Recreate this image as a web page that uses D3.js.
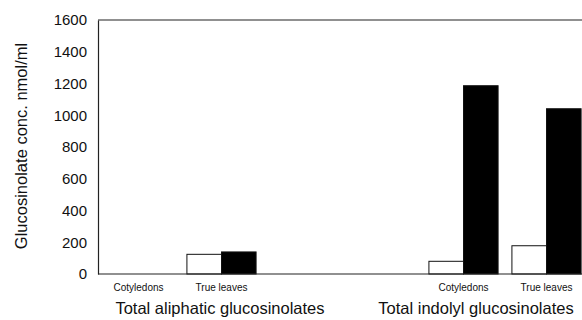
<!DOCTYPE html>
<html>
<head>
<meta charset="utf-8">
<script src="https://cdn.jsdelivr.net/npm/d3@7"></script>
<style>
  body { margin: 0; background: #fff; }
  text { font-family: "Liberation Sans", Arial, sans-serif; fill: #111; }
</style>
</head>
<body>
<div id="container"></div>
<script>
let w = 582;
let h = 320;

// DATA
let groups = ["Total aliphatic glucosinolates", "Total indolyl glucosinolates"];
let stages = ["Cotyledons", "True leaves"];
let series = ["white", "black"];
// values by group -> stage -> [white, black]
let aliphaticValues = [[0, 0], [124, 139]];
let indolylValues = [[80, 1186], [178, 1041]];
let yTicks = [0, 200, 400, 600, 800, 1000, 1200, 1400, 1600];

let allValues = [aliphaticValues, indolylValues];

let rows = [];
groups.forEach(function(g, gi){
  stages.forEach(function(s, si){
    series.forEach(function(k, ki){
      rows.push({group: g, stage: s, series: k, value: allValues[gi][si][ki]});
    });
  });
});

let padLeft = 98, padRight = 582, padTop = 20, padBottom = 274;
// group title shift relative to group centre
let titleShift = [40, -29];

let viz = d3.select("#container").append("svg")
    .attr("width", w)
    .attr("height", h)
    .style("display", "block");

// SCALES
let yScale = d3.scaleLinear().domain([0, 1600]).range([padBottom, padTop]);
let groupScale = d3.scalePoint().domain(groups).range([180, 505]);
let stageScale = d3.scaleBand().domain(stages).range([-83, 83]);
let seriesScale = d3.scaleBand().domain(series).range([0, stageScale.bandwidth()])
    .paddingInner(0).paddingOuter(0.2);

// frame lines
viz.append("line")
  .attr("x1", padLeft).attr("x2", padRight)
  .attr("y1", padTop).attr("y2", padTop)
  .attr("stroke", "#222").attr("stroke-width", 1.2);

// bars
viz.selectAll(".bar").data(rows.filter(function(d){ return d.value > 0; })).enter()
  .append("rect")
    .attr("class", "bar")
    .attr("x", function(d){ return groupScale(d.group) + stageScale(d.stage) + seriesScale(d.series); })
    .attr("width", seriesScale.bandwidth())
    .attr("y", function(d){ return yScale(d.value); })
    .attr("height", function(d){ return yScale(0) - yScale(d.value); })
    .attr("fill", function(d){ return d.series == "black" ? "#000" : "#fff"; })
    .attr("stroke", "#111")
    .attr("stroke-width", 1);

// y axis
let yAxis = d3.axisLeft(yScale).tickValues(yTicks).tickFormat(d3.format("d"))
    .tickSize(0).tickPadding(11);
let yg = viz.append("g").attr("transform", "translate(" + padLeft + ",0)").call(yAxis);
yg.select(".domain").attr("stroke", "#222").attr("stroke-width", 1.2);
yg.selectAll("text").style("font-size", "15px").attr("font-family", null).attr("fill", "#111");

// x axis line
viz.append("line")
  .attr("x1", padLeft).attr("x2", padRight)
  .attr("y1", padBottom).attr("y2", padBottom)
  .attr("stroke", "#222").attr("stroke-width", 1.2);

// stage labels
groups.forEach(function(g){
  viz.selectAll(null).data(stages).enter()
    .append("text")
      .attr("x", function(s){ return groupScale(g) + stageScale(s) + stageScale.bandwidth() / 2; })
      .attr("y", 291)
      .attr("text-anchor", "middle")
      .style("font-size", "10px")
      .text(function(s){ return s; });
});

// group labels
viz.selectAll(".grouplabel").data(groups).enter()
  .append("text")
    .attr("class", "grouplabel")
    .attr("x", function(g, i){ return groupScale(g) + titleShift[i]; })
    .attr("y", 314)
    .attr("text-anchor", "middle")
    .style("font-size", "16.5px")
    .text(function(g){ return g; });

// y title
viz.append("text")
  .attr("transform", "translate(27," + 146 + ") rotate(-90)")
  .attr("text-anchor", "middle")
  .style("font-size", "16.5px")
  .text("Glucosinolate conc. nmol/ml");
</script>
</body>
</html>
